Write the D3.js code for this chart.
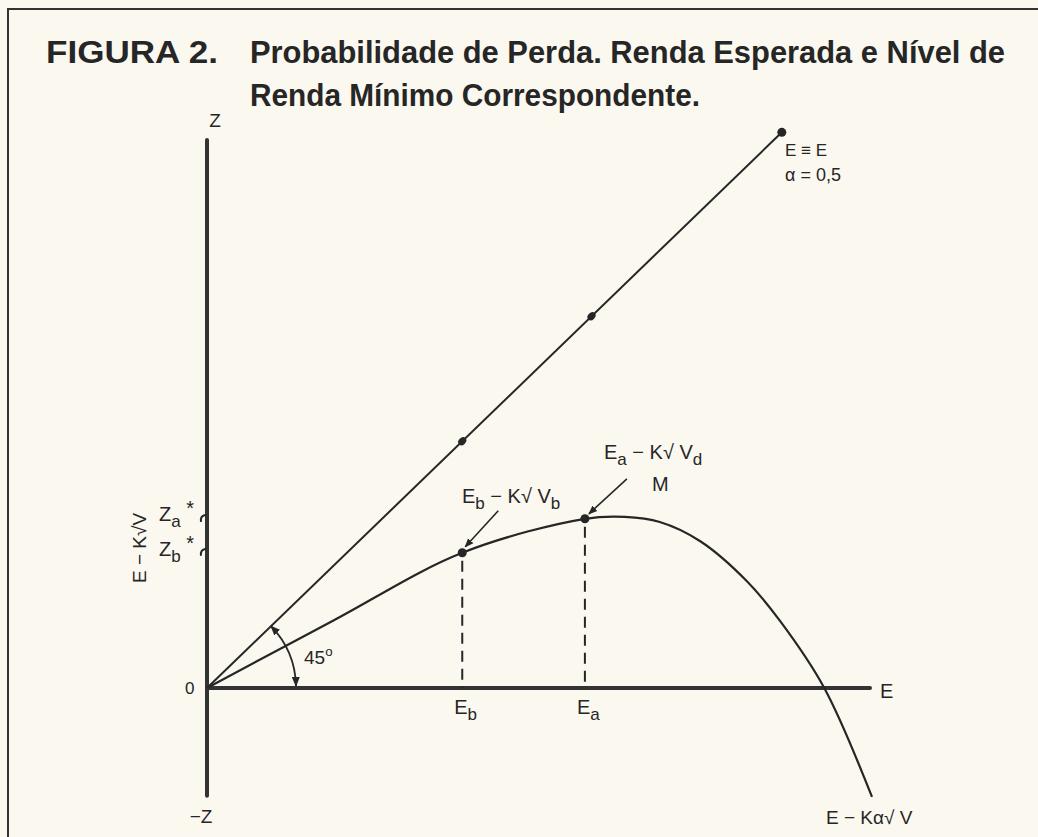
<!DOCTYPE html>
<html>
<head>
<meta charset="utf-8">
<script src="https://cdn.jsdelivr.net/npm/d3@7"></script>
<style>
  html, body { margin: 0; padding: 0; background: #fbf8f0; }
  svg { display: block; }
  text { font-family: "Liberation Sans", Arial, Helvetica, sans-serif; fill: #262626; }
</style>
</head>
<body>
<svg id="chart" width="1038" height="837"></svg>
<script>
// ---- data (in E / Z units) ----
const eDomain = [0, 10];            // horizontal axis E
const zDomain = [-1.68, 8.55];      // vertical axis Z (−Z .. Z)
const diagonal = [[0, 0], [8.67, 8.67]];          // E = E line (α = 0,5)
const diagonalMarks = [3.85, 5.8];                // marks along the 45° line
const frontier = [                                 // E − Kα√V curve
  [0, 0], [1.9, 1.05], [3.85, 2.11], [5.70, 2.64], [6.30, 2.67],
  [6.83, 2.59], [7.44, 2.29], [8.14, 1.67], [8.64, 1.05], [9.31, 0], [10.03, -1.70]
];
const planB = { E: 3.85, Z: 2.11 };   // E_b, Z_b*
const planA = { E: 5.70, Z: 2.64 };   // E_a, Z_a*
const titleLine1a = "FIGURA 2.";
const titleLine1b = "Probabilidade de Perda. Renda Esperada e Nível de";
const titleLine2 = "Renda Mínimo Correspondente.";

// ---- scales ----
const svg = d3.select("#chart");
const x = d3.scaleLinear().domain(eDomain).range([207, 870]);
const y = d3.scaleLinear().domain([0, zDomain[1]]).range([688, 140]);

const ink = "#262626";

// frame
svg.append("path")
  .attr("d", "M8,837 L8,9 L1038,9")
  .attr("fill", "none").attr("stroke", "#333").attr("stroke-width", 2);

// title
svg.append("text").attr("x", 46).attr("y", 63)
  .attr("font-size", 32).attr("font-weight", "bold")
  .attr("textLength", 172).attr("lengthAdjust", "spacingAndGlyphs")
  .text(titleLine1a);
svg.append("text").attr("x", 250).attr("y", 63)
  .attr("font-size", 32).attr("font-weight", "bold")
  .attr("textLength", 755).attr("lengthAdjust", "spacingAndGlyphs")
  .text(titleLine1b);
svg.append("text").attr("x", 250).attr("y", 106)
  .attr("font-size", 32).attr("font-weight", "bold")
  .attr("textLength", 450).attr("lengthAdjust", "spacingAndGlyphs")
  .text(titleLine2);

// markers
const defs = svg.append("defs");
["arr", "arrs"].forEach((id, i) => {
  defs.append("marker").attr("id", id)
    .attr("viewBox", "0 0 10 10").attr("refX", 9).attr("refY", 5)
    .attr("markerWidth", 9 + i).attr("markerHeight", 9 + i)
    .attr("markerUnits", "userSpaceOnUse")
    .attr("orient", "auto-start-reverse")
    .append("path").attr("d", "M0,1 L10,5 L0,9 Z").attr("fill", ink);
});

const line = d3.line().x(d => x(d[0])).y(d => y(d[1]));

// axes
svg.append("line")
  .attr("x1", x(0)).attr("x2", x(eDomain[1])).attr("y1", y(0)).attr("y2", y(0))
  .attr("stroke", "#333").attr("stroke-width", 4).attr("stroke-linecap", "round");
svg.append("line")
  .attr("x1", x(0)).attr("x2", x(0)).attr("y1", y(zDomain[1])).attr("y2", y(zDomain[0]))
  .attr("stroke", "#333").attr("stroke-width", 4).attr("stroke-linecap", "round");

// Z ticks at Za*, Zb*
[planA.Z, planB.Z].forEach(z => {
  svg.append("path")
    .attr("d", `M${x(0) - 1},${y(z) - 4} Q${x(0) - 7},${y(z) - 3} ${x(0) - 6},${y(z) + 3}`)
    .attr("fill", "none").attr("stroke", ink).attr("stroke-width", 2);
});

// 45° line
svg.append("path").attr("d", line(diagonal))
  .attr("fill", "none").attr("stroke", ink).attr("stroke-width", 2);
svg.append("circle").attr("cx", x(diagonal[1][0])).attr("cy", y(diagonal[1][1]))
  .attr("r", 4.5).attr("fill", ink);
diagonalMarks.forEach(v => {
  svg.append("ellipse").attr("cx", x(v)).attr("cy", y(v))
    .attr("rx", 3.5).attr("ry", 4.5)
    .attr("transform", `rotate(44 ${x(v)} ${y(v)})`)
    .attr("fill", ink);
});

// frontier curve
svg.append("path").attr("d", line.curve(d3.curveCatmullRom.alpha(0.5))(frontier))
  .attr("fill", "none").attr("stroke", ink).attr("stroke-width", 2.2);

// plan points + dashed drops
[planB, planA].forEach(p => {
  svg.append("line")
    .attr("x1", x(p.E)).attr("x2", x(p.E)).attr("y1", y(p.Z) + 8).attr("y2", y(0))
    .attr("stroke", ink).attr("stroke-width", 2).attr("stroke-dasharray", "11,7");
  svg.append("circle").attr("cx", x(p.E)).attr("cy", y(p.Z)).attr("r", 4.5).attr("fill", ink);
});

// pointer arrows
svg.append("line")
  .attr("x1", x(planB.E) + 36).attr("y1", y(planB.Z) - 42)
  .attr("x2", x(planB.E) + 3).attr("y2", y(planB.Z) - 6)
  .attr("stroke", ink).attr("stroke-width", 1.6).attr("marker-end", "url(#arr)");
svg.append("line")
  .attr("x1", x(planA.E) + 42).attr("y1", y(planA.Z) - 40)
  .attr("x2", x(planA.E) + 4).attr("y2", y(planA.Z) - 5)
  .attr("stroke", ink).attr("stroke-width", 1.6).attr("marker-end", "url(#arr)");

// 45° arc
const ox = x(0), oy = y(0), r = 89;
const ang = Math.atan2(y(0) - y(diagonal[1][1]), x(diagonal[1][0]) - x(0));
svg.append("path")
  .attr("d", `M${ox + r},${oy - 2} A${r},${r} 0 0 0 ${ox + r * Math.cos(ang)},${oy - r * Math.sin(ang)}`)
  .attr("fill", "none").attr("stroke", ink).attr("stroke-width", 1.8)
  .attr("marker-start", "url(#arrs)").attr("marker-end", "url(#arrs)");

// labels
function lab(tx, ty, size, parts, anchor) {
  const t = svg.append("text").attr("x", tx).attr("y", ty).attr("font-size", size)
    .attr("text-anchor", anchor || "start");
  parts.forEach(p => {
    const s = t.append("tspan").text(p.t);
    if (p.sub) s.attr("dy", 6).attr("font-size", size * 0.85);
    if (p.sup) s.attr("dy", -8).attr("font-size", size * 0.7);
    if (p.back) s.attr("dy", p.back);
  });
  return t;
}
lab(x(0) + 8, 127, 19, [{t: "Z"}], "middle");
lab(x(0) - 6, 823, 19, [{t: "−Z"}], "middle");
lab(185, 694, 17, [{t: "0"}]);
lab(x(eDomain[1]) + 10, 698, 20, [{t: "E"}]);
lab(x(planB.E) - 8, 714, 20, [{t: "E"}, {t: "b", sub: true}]);
lab(x(planA.E) - 8, 714, 20, [{t: "E"}, {t: "a", sub: true}]);
lab(785, 156, 17, [{t: "E ≡ E"}]);
lab(785, 181, 18, [{t: "α  = 0,5"}]);
lab(604, 459, 20, [{t: "E"}, {t: "a", sub: true}, {t: " − K√ V", back: -6}, {t: "d", sub: true}]);
lab(652, 491, 20, [{t: "M"}]);
lab(462, 503, 20, [{t: "E"}, {t: "b", sub: true}, {t: " − K√ V", back: -6}, {t: "b", sub: true}]);
lab(304, 664, 19, [{t: "45"}, {t: "o", sup: true}]);
lab(159, 521, 20, [{t: "Z"}, {t: "a", sub: true}, {t: " *", back: -12}]);
lab(159, 556, 20, [{t: "Z"}, {t: "b", sub: true}, {t: " *", back: -12}]);
svg.append("text").attr("transform", "translate(146,548) rotate(-90)")
  .attr("text-anchor", "middle").attr("font-size", 19).text("E − K√V");
lab(826, 824, 19, [{t: "E − Kα√ V"}]);
</script>
</body>
</html>
